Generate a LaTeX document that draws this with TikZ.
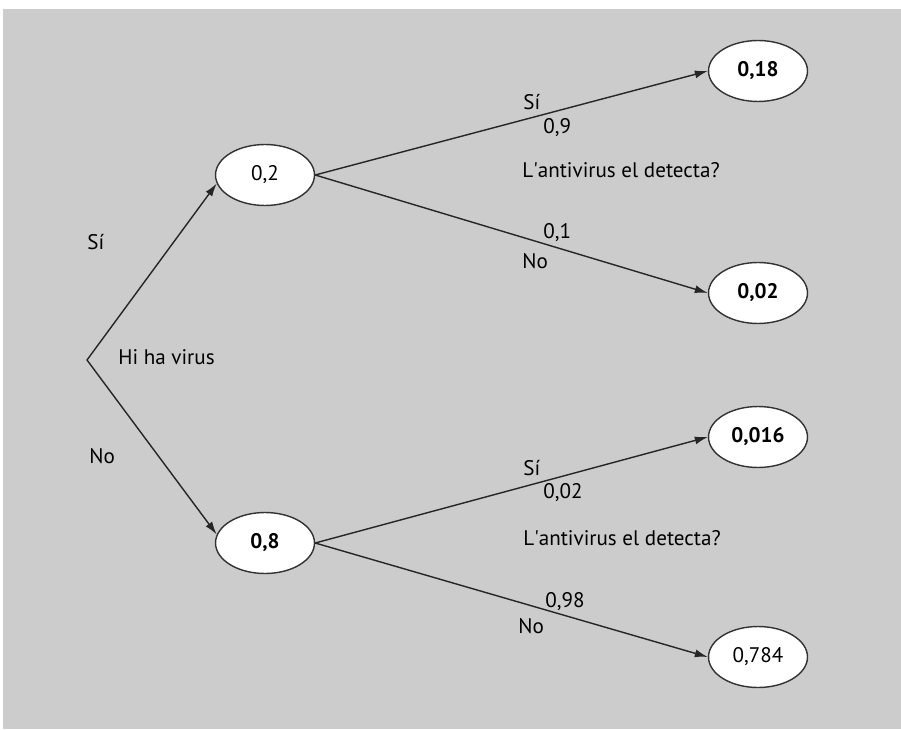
\documentclass[tikz,border=0pt]{standalone}
\usepackage{fontspec}
\setmainfont{PT Sans}
\usetikzlibrary{shapes.geometric,arrows.meta}
\definecolor{fons}{HTML}{CCCCCC}

\begin{document}
\begin{tikzpicture}[x=0.02cm, y=-0.02cm,
        every node/.style={font=\fontsize{12}{14}\selectfont, text=black},
        prob/.style={ellipse, draw=black!80, line width=0.8pt, fill=white,
            minimum width=1.98cm, minimum height=1.22cm, inner sep=0pt},
        etiq/.style={anchor=west, inner sep=0pt, text height=1.5ex, text depth=0.25ex},
        fletxa/.style={draw=black!85, line width=0.8pt, -{Latex[length=0.26cm,width=0.16cm]}}]
        \useasboundingbox (0, 0) rectangle (901, 729);
        \fill[fons] (3, 9) rectangle (901, 729);

        \coordinate (arrel) at (87, 360);

        \node[prob] (n2) at (265, 175) { 0,2 };
        \node[prob] (n8) at (265, 543) { \bfseries 0,8 };
        \node[prob] (n18) at (758, 71) { \bfseries 0,18 };
        \node[prob] (n02) at (758, 293) { \bfseries 0,02 };
        \node[prob] (n016) at (758, 437) { \bfseries 0,016 };
        \node[prob] (n784) at (758, 657) { 0,784 };

        \draw[fletxa] (arrel) -- (n2.190);
        \draw[fletxa] (arrel) -- (n8.170);
        \draw[fletxa] (n2.east) -- (n18.west);
        \draw[fletxa] (n2.east) -- (n02.west);
        \draw[fletxa] (n8.east) -- (n016.west);
        \draw[fletxa] (n8.east) -- (n784.west);

        \node[etiq] (si) at (87, 244) { Sí };
        \node[etiq] (no) at (89, 458) { No };
        \node[etiq] (virus) at (118, 359) { Hi ha virus };

        \node[etiq] (siA) at (523, 104) { Sí };
        \node[etiq] (pA) at (543, 128) { 0,9 };
        \node[etiq] (detA) at (522, 172) { L\textquotesingle antivirus el detecta? };
        \node[etiq] (qA) at (543, 233) { 0,1 };
        \node[etiq] (noA) at (522, 263) { No };

        \node[etiq] (siB) at (523, 470) { Sí };
        \node[etiq] (pB) at (543, 493) { 0,02 };
        \node[etiq] (detB) at (523, 540) { L\textquotesingle antivirus el detecta? };
        \node[etiq] (qB) at (545, 602) { 0,98 };
        \node[etiq] (noB) at (518, 628) { No };

    \end{tikzpicture}
\end{document}
